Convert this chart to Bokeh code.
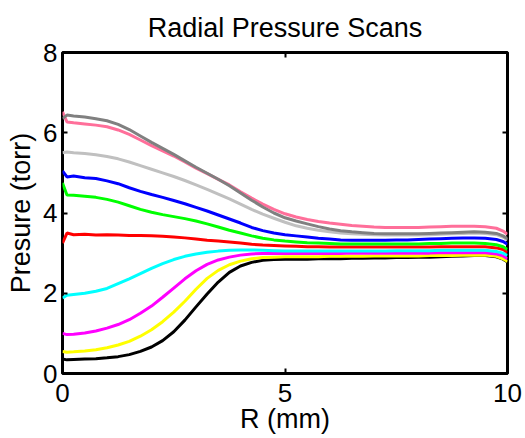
from bokeh.plotting import figure
from bokeh.models import LinearAxis, FixedTicker, Range1d
from bokeh.embed import file_html
from bokeh.resources import INLINE

# Radial position (mm)
R = [0.0, 0.1, 0.25, 0.5, 0.75, 1.0, 1.25, 1.5, 1.75, 2.0, 2.25, 2.5, 2.75,
     3.0, 3.25, 3.5, 3.75, 4.0, 4.25, 4.5, 4.75, 5.0, 5.25, 5.5, 5.75, 6.0,
     6.25, 6.5, 6.75, 7.0, 7.25, 7.5, 7.75, 8.0, 8.25, 8.5, 8.75, 9.0, 9.25,
     9.5, 9.75, 9.9, 10.0]

# Pressure scans (torr), one per run
p_black = [0.36, 0.34, 0.35, 0.36, 0.37, 0.39, 0.42, 0.47, 0.55, 0.66, 0.82, 1.04, 1.33,
           1.66, 1.98, 2.28, 2.52, 2.68, 2.77, 2.82, 2.84, 2.85, 2.85, 2.85, 2.86, 2.86,
           2.86, 2.87, 2.87, 2.88, 2.88, 2.89, 2.89, 2.90, 2.90, 2.91, 2.92, 2.93, 2.94,
           2.94, 2.91, 2.85, 2.78]
p_yellow = [0.55, 0.53, 0.54, 0.56, 0.59, 0.64, 0.71, 0.80, 0.93, 1.09, 1.29, 1.53, 1.80,
            2.10, 2.37, 2.57, 2.71, 2.80, 2.86, 2.89, 2.90, 2.91, 2.91, 2.91, 2.91, 2.92,
            2.92, 2.92, 2.92, 2.93, 2.93, 2.93, 2.93, 2.93, 2.94, 2.94, 2.94, 2.95, 2.95,
            2.95, 2.92, 2.86, 2.79]
p_magenta = [1.00, 0.97, 0.98, 1.01, 1.06, 1.13, 1.22, 1.34, 1.50, 1.68, 1.90, 2.13, 2.36,
             2.56, 2.72, 2.83, 2.90, 2.95, 2.98, 2.99, 2.99, 2.99, 2.99, 2.99, 2.99, 2.99,
             2.99, 3.00, 3.00, 3.00, 3.00, 3.00, 3.00, 3.00, 3.00, 3.01, 3.01, 3.01, 3.01,
             3.01, 2.98, 2.93, 2.86]
p_cyan = [1.88, 1.95, 1.97, 2.00, 2.05, 2.12, 2.24, 2.36, 2.49, 2.62, 2.74, 2.84, 2.92,
          2.98, 3.02, 3.05, 3.07, 3.08, 3.08, 3.07, 3.06, 3.05, 3.05, 3.05, 3.05, 3.05,
          3.05, 3.05, 3.05, 3.05, 3.05, 3.06, 3.06, 3.06, 3.06, 3.07, 3.07, 3.07, 3.07,
          3.07, 3.04, 3.00, 2.94]
p_red = [3.25, 3.50, 3.46, 3.47, 3.45, 3.46, 3.45, 3.44, 3.44, 3.43, 3.42, 3.40, 3.38,
         3.35, 3.32, 3.30, 3.28, 3.25, 3.22, 3.20, 3.19, 3.18, 3.17, 3.16, 3.16, 3.15,
         3.15, 3.15, 3.15, 3.15, 3.15, 3.15, 3.15, 3.15, 3.15, 3.16, 3.16, 3.16, 3.16,
         3.16, 3.13, 3.09, 3.02]
p_green = [4.75, 4.45, 4.44, 4.42, 4.39, 4.34, 4.27, 4.18, 4.09, 4.02, 3.96, 3.91, 3.86,
           3.80, 3.73, 3.65, 3.57, 3.50, 3.43, 3.37, 3.33, 3.30, 3.28, 3.26, 3.25, 3.24,
           3.23, 3.23, 3.23, 3.23, 3.23, 3.23, 3.23, 3.23, 3.24, 3.24, 3.25, 3.25, 3.25,
           3.24, 3.21, 3.16, 3.09]
p_blue = [5.05, 4.90, 4.92, 4.88, 4.86, 4.80, 4.73, 4.63, 4.54, 4.46, 4.39, 4.31, 4.23,
          4.14, 4.05, 3.95, 3.85, 3.75, 3.64, 3.56, 3.50, 3.46, 3.43, 3.40, 3.37, 3.35,
          3.33, 3.32, 3.32, 3.32, 3.32, 3.33, 3.33, 3.34, 3.35, 3.36, 3.37, 3.38, 3.38,
          3.37, 3.34, 3.29, 3.22]
p_lightgray = [5.50, 5.52, 5.50, 5.48, 5.45, 5.41, 5.35, 5.27, 5.18, 5.09, 5.00, 4.91, 4.81,
               4.70, 4.59, 4.47, 4.35, 4.22, 4.09, 3.97, 3.87, 3.77, 3.68, 3.62, 3.57, 3.53,
               3.50, 3.48, 3.47, 3.46, 3.45, 3.45, 3.45, 3.45, 3.46, 3.47, 3.48, 3.49, 3.50,
               3.49, 3.46, 3.40, 3.33]
p_pink = [6.52, 6.27, 6.25, 6.22, 6.19, 6.15, 6.07, 5.96, 5.82, 5.68, 5.55, 5.42, 5.27,
          5.12, 4.98, 4.84, 4.70, 4.53, 4.37, 4.22, 4.09, 3.98, 3.90, 3.84, 3.79, 3.75,
          3.72, 3.69, 3.67, 3.65, 3.64, 3.64, 3.64, 3.64, 3.65, 3.66, 3.67, 3.67, 3.67,
          3.66, 3.62, 3.55, 3.47]
p_gray = [6.35, 6.44, 6.42, 6.39, 6.35, 6.30, 6.21, 6.08, 5.92, 5.76, 5.61, 5.46, 5.30,
          5.14, 4.99, 4.84, 4.68, 4.50, 4.32, 4.15, 4.00, 3.88, 3.80, 3.73, 3.66, 3.60,
          3.56, 3.53, 3.51, 3.49, 3.48, 3.48, 3.48, 3.48, 3.49, 3.50, 3.51, 3.52, 3.53,
          3.52, 3.49, 3.43, 3.36]

x_ticks = [0, 5, 10]
y_ticks = [0, 2, 4, 6, 8]

scans = [
    (p_black, "#000000"),
    (p_yellow, "#ffff00"),
    (p_magenta, "#ff00ff"),
    (p_cyan, "#00ffff"),
    (p_red, "#ff0000"),
    (p_green, "#00ff00"),
    (p_blue, "#0000ff"),
    (p_lightgray, "#c0c0c0"),
    (p_pink, "#ff6f9a"),
    (p_gray, "#808080"),
]

FONT = "Liberation Sans"

p = figure(width=525, height=438, output_backend="svg", toolbar_location=None,
           x_range=Range1d(0, 10), y_range=Range1d(0, 8),
           min_border_left=62, min_border_right=18, min_border_top=49,
           min_border_bottom=65, title="Radial Pressure Scans")

p.title.text_font = FONT
p.title.text_font_size = "27px"
p.title.text_font_style = "normal"
p.title.align = "center"
p.title.text_color = "black"
p.title.standoff = 20

p.grid.visible = False
p.background_fill_color = "white"
p.border_fill_color = "white"
p.outline_line_color = "black"
p.outline_line_width = 3

for vals, col in scans:
    p.line(R, vals, line_color=col, line_width=3)

def style_axis(ax, ticks, show_labels):
    ax.ticker = FixedTicker(ticks=ticks)
    ax.axis_line_color = None
    ax.major_tick_in = 5
    ax.major_tick_out = 0
    ax.major_tick_line_width = 2
    ax.major_tick_line_color = "black"
    ax.minor_tick_line_color = None
    ax.major_label_text_font = FONT
    ax.major_label_text_color = "black"
    ax.major_label_text_font_size = "26px"
    if not show_labels:
        # box-style tick marks only, no numbers on this side
        ax.major_label_overrides = {t: "" for t in ticks}
        ax.major_label_standoff = 0
    ax.axis_label_text_font = FONT
    ax.axis_label_text_font_size = "27px"
    ax.axis_label_text_font_style = "normal"
    ax.axis_label_text_color = "black"

xa = p.xaxis[0]
ya = p.yaxis[0]
style_axis(xa, x_ticks, True)
style_axis(ya, y_ticks, True)
xa.axis_label = "R (mm)"
ya.axis_label = "Presure (torr)"
xa.major_label_standoff = 10
xa.axis_label_standoff = -1
ya.major_label_standoff = 5
ya.axis_label_standoff = 4

top = LinearAxis()
style_axis(top, x_ticks, False)
p.add_layout(top, "above")
right = LinearAxis()
style_axis(right, y_ticks, False)
p.add_layout(right, "right")

open("out.html", "w").write(file_html(p, INLINE))
